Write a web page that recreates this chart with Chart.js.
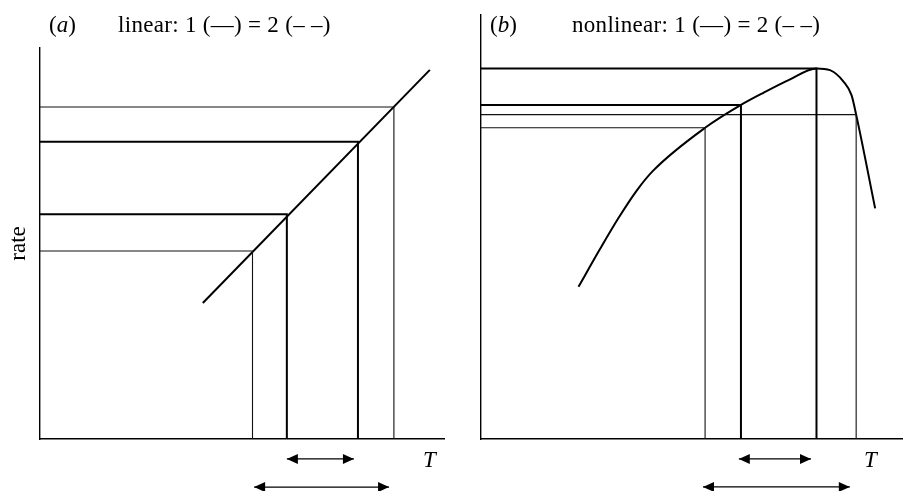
<!DOCTYPE html>
<html>
<head>
<meta charset="utf-8">
<script src="https://cdn.jsdelivr.net/npm/chart.js@4.4.1/dist/chart.umd.min.js"></script>
<style>
  body { margin: 0; background: #fff; }
  #wrap { position: relative; width: 903px; height: 491px; overflow: hidden; }
  canvas { position: absolute; top: 0; }
  #chart-a { left: 0; }
  #chart-b { left: 460px; }
  .lbl { position: absolute; font-family: 'Liberation Serif', 'Times New Roman', serif; font-size: 23px; line-height: 23px; color: #000; white-space: pre; }
  .head { letter-spacing: 0.3px; }
</style>
</head>
<body>
<div id="wrap">
  <canvas id="chart-a" width="460" height="491"></canvas>
  <canvas id="chart-b" width="443" height="491"></canvas>
  <div class="lbl" style="left:49px;top:13px">(<i>a</i>)</div>
  <div class="lbl head" style="left:118px;top:13px">linear: 1 (—) = 2 (– –)</div>
  <div class="lbl" style="left:490px;top:13px">(<i>b</i>)</div>
  <div class="lbl head" style="left:572px;top:13px">nonlinear: 1 (—) = 2 (– –)</div>
  <div class="lbl" style="left:423px;top:448px"><i>T</i></div>
  <div class="lbl" style="left:864px;top:448px"><i>T</i></div>
</div>
<script>
// (a) linear response: straight line, T vs rate
const aLineT = [40.3, 96.5]
const aLineRate = [34.8, 94.4]
// corners of the read-off rectangles (thin = 2, bold = 1)
const aCornerT = [52.6, 61.1, 78.7, 87.6]
const aCornerRate = [48.1, 57.5, 76.0, 84.9]
const aCornerBold = [false, true, true, false]
// arrow tips below the T axis
const aArrowShort = [61.1, 77.7]
const aArrowLong = [53.0, 86.4]
const aArrowRate = [-5.1, -12.3]

// (b) nonlinear response: curve with a maximum
const bCurveT = [23.1, 28.2, 32.5, 36.9, 40.8, 53.1, 61.6, 67.0, 73.0, 79.5, 82.7, 85.9, 87.8, 88.9, 93.4]
const bCurveRate = [35.9, 44.8, 52.0, 58.6, 63.3, 73.4, 78.8, 81.7, 84.7, 87.4, 87.0, 84.3, 81.1, 76.5, 54.4]
const bCornerT = [53.1, 61.6, 79.5, 88.9]
const bCornerRate = [73.4, 78.8, 87.4, 76.5]
const bCornerBold = [false, true, true, false]
const bArrowShort = [61.1, 78.2]
const bArrowLong = [52.6, 87.4]
const bArrowRate = [-4.7, -11.3]

const toPoints = (xs, ys) => xs.map((x, i) => ({ x, y: ys[i] }))

const lineSet = (points, width, extra = {}) => ({
  data: points,
  showLine: true,
  borderColor: '#000',
  borderWidth: width,
  pointRadius: 0,
  tension: 0,
  ...extra
})

const cornerSets = (ts, rs, bold) => ts.map((t, i) => lineSet(
  [{ x: 0, y: rs[i] }, { x: t, y: rs[i] }, { x: t, y: 0 }],
  bold[i] ? 2 : 1.1,
  { borderColor: bold[i] ? '#000' : '#111' }
))

const arrowSet = (range, rate) => lineSet(range.map(x => ({ x, y: rate })), 1.3, { clip: false, arrow: true })

// point elements outside the chart area are skipped, so the heads are drawn here
const arrowHeads = {
  id: 'arrowHeads',
  afterDatasetsDraw(chart) {
    const ctx = chart.ctx
    chart.data.datasets.forEach((ds, i) => {
      if (!ds.arrow) return
      const pts = chart.getDatasetMeta(i).data
      const first = pts[0]
      const last = pts[pts.length - 1]
      ctx.save()
      ctx.fillStyle = '#000'
      ;[[first, 1], [last, -1]].forEach(([p, dir]) => {
        ctx.beginPath()
        ctx.moveTo(p.x, p.y)
        ctx.lineTo(p.x + dir * 11, p.y - 5)
        ctx.lineTo(p.x + dir * 11, p.y + 5)
        ctx.closePath()
        ctx.fill()
      })
      ctx.restore()
    })
  }
}

const axisFont = { family: "'Liberation Serif', 'Times New Roman', serif", size: 23 }

const makeOptions = (cfg) => ({
  responsive: false,
  animation: false,
  devicePixelRatio: 1,
  events: [],
  layout: { padding: { top: cfg.top, right: cfg.right, left: 0, bottom: 0 } },
  plugins: { legend: { display: false }, tooltip: { enabled: false } },
  scales: {
    x: {
      type: 'linear', min: 0, max: 100,
      grid: { display: false, drawTicks: false },
      ticks: { display: false },
      border: { display: true, color: '#000', width: 1.4 },
      afterFit: (s) => { s.height = 52 }
    },
    y: {
      type: 'linear', min: 0, max: 100,
      grid: { display: false, drawTicks: false },
      ticks: { display: false },
      border: { display: true, color: '#000', width: 1.4 },
      title: cfg.yTitle,
      afterFit: (s) => { s.width = cfg.yWidth }
    }
  }
})

new Chart(document.getElementById('chart-a'), {
  type: 'scatter',
  data: {
    datasets: [
      ...cornerSets(aCornerT, aCornerRate, aCornerBold),
      lineSet(toPoints(aLineT, aLineRate), 2),
      arrowSet(aArrowShort, aArrowRate[0]),
      arrowSet(aArrowLong, aArrowRate[1])
    ]
  },
  options: makeOptions({
    top: 48, right: 16, yWidth: 40,
    yTitle: { display: true, text: 'rate', color: '#000', font: axisFont, padding: { top: 5, bottom: 0 } }
  }),
  plugins: [arrowHeads]
})

new Chart(document.getElementById('chart-b'), {
  type: 'scatter',
  data: {
    datasets: [
      ...cornerSets(bCornerT, bCornerRate, bCornerBold),
      lineSet(toPoints(bCurveT, bCurveRate), 2, { cubicInterpolationMode: 'monotone' }),
      arrowSet(bArrowShort, bArrowRate[0]),
      arrowSet(bArrowLong, bArrowRate[1])
    ]
  },
  options: makeOptions({
    top: 15, right: 0, yWidth: 21,
    yTitle: { display: false }
  }),
  plugins: [arrowHeads]
})
</script>
</body>
</html>
